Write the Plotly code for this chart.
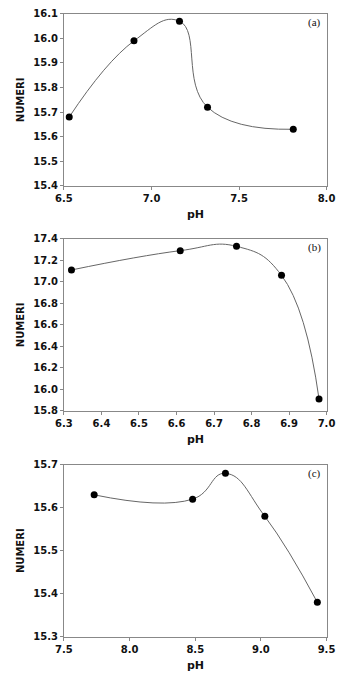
import plotly.graph_objects as go

# Panel (a)
ph_a = [6.53, 6.90, 7.16, 7.32, 7.81]
num_a = [15.68, 15.99, 16.07, 15.72, 15.63]
# Panel (b)
ph_b = [6.32, 6.61, 6.76, 6.88, 6.98]
num_b = [17.11, 17.29, 17.33, 17.06, 15.91]
# Panel (c)
ph_c = [7.73, 8.48, 8.73, 9.03, 9.43]
num_c = [15.63, 15.62, 15.68, 15.58, 15.38]

panels = [
    (ph_a, num_a, "(a)", [6.5, 8.0], 0.5, [15.4, 16.1], 0.1),
    (ph_b, num_b, "(b)", [6.3, 7.0], 0.1, [15.8, 17.4], 0.2),
    (ph_c, num_c, "(c)", [7.5, 9.5], 0.5, [15.3, 15.7], 0.1),
]

W, H = 345, 680
ydoms = [(8, 183), (237, 412), (467, 642)]
xdom = [58 / W, 335 / W]

fig = go.Figure()
tickfont = dict(family="DejaVu Sans", size=10, color="#111", weight=700)
for i, (xs, ys, lab, xr, dx, yr, dy) in enumerate(panels):
    n = "" if i == 0 else str(i + 1)
    fig.add_trace(go.Scatter(
        x=xs, y=ys, mode="lines+markers",
        line=dict(color="#666", width=1, shape="spline", smoothing=1.3),
        marker=dict(color="black", size=7),
        xaxis="x" + n, yaxis="y" + n, showlegend=False))
    top, bot = ydoms[i]
    ydom = [1 - bot / H, 1 - top / H]
    common = dict(showgrid=False, zeroline=False, showline=True, linecolor="#888",
                  linewidth=1, mirror=True, ticks="outside", ticklen=3,
                  tickcolor="#888", tickfont=tickfont)
    fig.update_layout(**{
        "xaxis" + n: dict(domain=xdom, range=xr, dtick=dx, tick0=xr[0],
                          tickformat=".1f", anchor="y" + n, **common),
        "yaxis" + n: dict(domain=ydom, range=yr, dtick=dy, tick0=yr[0],
                          tickformat=".1f", anchor="x" + n, **common),
    })
    fig.add_annotation(text="NUMERI", xref="paper", yref="paper",
                       x=12 / W, y=1 - (top + bot) / 2 / H, textangle=-90,
                       xanchor="center", yanchor="middle", showarrow=False,
                       font=dict(family="DejaVu Sans", size=10, color="#111", weight=700))
    fig.add_annotation(text="pH", xref="paper", yref="paper",
                       x=197 / W, y=1 - (bot + 29) / H,
                       xanchor="center", yanchor="middle", showarrow=False,
                       font=dict(family="DejaVu Sans", size=11, color="#111", weight=700))
    fig.add_annotation(text=lab, xref="paper", yref="paper",
                       x=322 / W, y=1 - (top + 9) / H,
                       xanchor="center", yanchor="middle", showarrow=False,
                       font=dict(family="Liberation Serif", size=11, color="#111"))

fig.update_layout(width=W, height=H, margin=dict(l=0, r=0, t=0, b=0),
                  paper_bgcolor="white", plot_bgcolor="white")
fig.write_html("out.html")
